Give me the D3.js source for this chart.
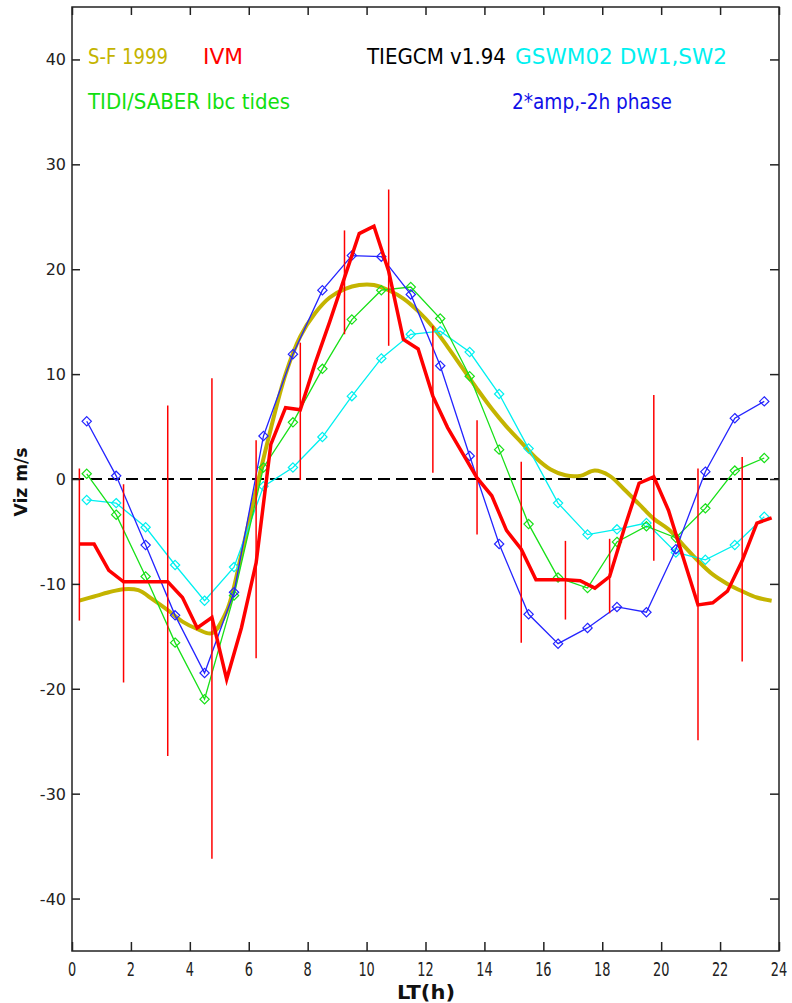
<!DOCTYPE html>
<html>
<head>
<meta charset="utf-8">
<script src="https://cdn.jsdelivr.net/npm/d3@7"></script>
<style>
  html, body { margin: 0; padding: 0; background: #fff; }
  svg { display: block; }
</style>
</head>
<body>
<script>
// Local time (h) for the hourly model series
const hourTimes = d3.range(24).map(i => i + 0.5);
// Local time (h) for half-hourly series (S-F 1999, IVM)
const halfTimes = d3.range(48).map(i => i * 0.5 + 0.25);

// S-F 1999 empirical model
const sfValues = [-11.6, -11.2, -10.8, -10.5, -10.6, -11.5, -12.5, -13.6, -14.3, -14.7,
  -12.6, -7.2, -1.0, 4.8, 10.0, 13.6, 15.8, 17.3, 18.1, 18.5,
  18.5, 18.0, 17.2, 16.0, 14.5, 12.6, 10.6, 8.6, 6.7, 5.0,
  3.5, 2.0, 0.9, 0.35, 0.3, 0.8, 0.3, -1.0, -2.4, -3.8,
  -4.8, -6.3, -7.8, -9.1, -10.0, -10.7, -11.3, -11.6];

// IVM observations
const ivmValues = [-6.2, -6.2, -8.7, -9.8, -9.8, -9.8, -9.8, -11.3, -14.2, -13.2,
  -19.1, -14.2, -8.0, 3.3, 6.8, 6.6, 11.0, 15.0, 19.2, 23.4,
  24.1, 19.8, 13.3, 12.4, 7.9, 4.9, 2.5, 0.1, -1.6, -4.9,
  -6.7, -9.6, -9.6, -9.6, -9.7, -10.4, -9.3, -4.7, -0.4, 0.2,
  -3.0, -7.5, -12.0, -11.8, -10.7, -7.8, -4.2, -3.7];

// IVM error bars
const errTimes = [0.25, 1.75, 3.25, 4.75, 6.25, 7.75, 9.25, 10.75, 12.25, 13.75, 15.25, 16.75, 18.25, 19.75, 21.25, 22.75];
const errHigh = [1.0, -0.5, 7.0, 9.6, 3.7, 13.0, 23.7, 27.6, 14.6, 5.6, 1.65, -5.9, -5.7, 8.0, 1.0, 2.1];
const errLow = [-13.5, -19.4, -26.4, -36.2, -17.1, -0.1, 13.8, 12.7, 0.6, -5.3, -15.6, -13.4, -12.8, -7.8, -24.9, -17.4];

// TIEGCM v1.94 runs
const gswmValues = [-2.0, -2.3, -4.6, -8.2, -11.6, -8.4, -0.7, 1.1, 4.0, 7.9, 11.5, 13.8,
  14.1, 12.1, 8.1, 2.9, -2.3, -5.3, -4.8, -4.2, -7.0, -7.7, -6.3, -3.6];
const tidiValues = [0.5, -3.4, -9.3, -15.6, -21.0, -11.1, 1.1, 5.4, 10.5, 15.2, 18.0, 18.3,
  15.3, 9.8, 2.8, -4.3, -9.4, -10.4, -6.0, -4.5, -5.6, -2.8, 0.8, 2.0];
const ampValues = [5.5, 0.3, -6.3, -13.0, -18.5, -10.8, 4.1, 11.9, 18.0, 21.3, 21.2, 17.6,
  10.8, 2.2, -6.2, -12.9, -15.7, -14.2, -12.2, -12.7, -6.7, 0.7, 5.8, 7.4];

const xTicks = d3.range(0, 25, 2);
const yTicks = d3.range(-40, 41, 10);

const W = 792, H = 1003;
const M = { left: 72, right: 779, top: 7, bottom: 951 };

const svg = d3.select("body").append("svg").attr("width", W).attr("height", H);

const x = d3.scaleLinear().domain([0, 24]).range([M.left, M.right]);
const y = d3.scaleLinear().domain([-45, 45]).range([M.bottom, M.top]);

const narrow = "'Liberation Sans Narrow', 'Arial Narrow', 'DejaVu Sans Condensed', sans-serif";
const COLORS = { sf: "#c4b400", ivm: "#ff0000", gswm: "#00f0f0", tidi: "#18e018", amp: "#2424ff" };

// Zero reference line
svg.append("line")
  .attr("x1", M.left).attr("x2", M.right).attr("y1", y(0)).attr("y2", y(0))
  .attr("stroke", "#000").attr("stroke-width", 2).attr("stroke-dasharray", "12,6");

const lineHalf = d3.line().x((d, i) => x(halfTimes[i])).y(d => y(d));
const lineHour = d3.line().x((d, i) => x(hourTimes[i])).y(d => y(d));
const lineSmooth = d3.line().x((d, i) => x(halfTimes[i])).y(d => y(d)).curve(d3.curveCatmullRom);

// S-F 1999 curve
svg.append("path").attr("d", lineSmooth(sfValues))
  .attr("fill", "none").attr("stroke", COLORS.sf).attr("stroke-width", 4).attr("stroke-linejoin", "round");

// Hourly model series with open diamond markers
const diamond = d3.symbol().type(d3.symbolDiamond2).size(55);
function modelSeries(values, color) {
  svg.append("path").attr("d", lineHour(values))
    .attr("fill", "none").attr("stroke", color).attr("stroke-width", 1.3);
  svg.append("g").selectAll("path").data(values).join("path")
    .attr("d", diamond)
    .attr("transform", (d, i) => `translate(${x(hourTimes[i])},${y(d)})`)
    .attr("fill", "none").attr("stroke", color).attr("stroke-width", 1.2);
}
modelSeries(gswmValues, COLORS.gswm);
modelSeries(tidiValues, COLORS.tidi);
modelSeries(ampValues, COLORS.amp);

// IVM error bars and line
svg.append("g").selectAll("line").data(errTimes).join("line")
  .attr("x1", d => x(d)).attr("x2", d => x(d))
  .attr("y1", (d, i) => y(errHigh[i])).attr("y2", (d, i) => y(errLow[i]))
  .attr("stroke", COLORS.ivm).attr("stroke-width", 1.5);
svg.append("path").attr("d", lineHalf(ivmValues))
  .attr("fill", "none").attr("stroke", COLORS.ivm).attr("stroke-width", 3.5).attr("stroke-linejoin", "miter");

// Frame with inward ticks on all sides
svg.append("rect").attr("x", M.left).attr("y", M.top)
  .attr("width", M.right - M.left).attr("height", M.bottom - M.top)
  .attr("fill", "none").attr("stroke", "#222").attr("stroke-width", 1.5);
const axB = d3.axisBottom(x).tickValues(xTicks).tickSize(-9).tickFormat("");
const axT = d3.axisTop(x).tickValues(xTicks).tickSize(-8).tickFormat("");
const axL = d3.axisLeft(y).tickValues(yTicks).tickSize(-8).tickFormat("");
const axR = d3.axisRight(y).tickValues(yTicks).tickSize(-9).tickFormat("");
[[axB, `translate(0,${M.bottom})`], [axT, `translate(0,${M.top})`], [axL, `translate(${M.left},0)`], [axR, `translate(${M.right},0)`]]
  .forEach(([ax, t]) => {
    const g = svg.append("g").attr("transform", t).call(ax);
    g.select(".domain").remove();
    g.selectAll(".tick line").attr("stroke", "#222").attr("stroke-width", 1.5);
  });

// Tick labels
svg.append("g").selectAll("text").data(xTicks).join("text")
  .attr("x", d => x(d)).attr("y", 976)
  .attr("text-anchor", "middle").attr("font-family", narrow).attr("font-size", 19).attr("fill", "#222")
  .attr("textLength", d => String(d).length * 8.2).attr("lengthAdjust", "spacingAndGlyphs")
  .text(d => d);
svg.append("g").selectAll("text").data(yTicks).join("text")
  .attr("x", 66).attr("y", d => y(d) + 6)
  .attr("text-anchor", "end").attr("font-family", "'DejaVu Sans', sans-serif").attr("font-size", 16).attr("fill", "#222")
  .text(d => d);

// Axis titles
svg.append("text").attr("x", 426).attr("y", 999).attr("text-anchor", "middle")
  .attr("font-family", narrow).attr("font-weight", "bold").attr("font-size", 20).attr("fill", "#111")
  .attr("textLength", 58).attr("lengthAdjust", "spacingAndGlyphs").text("LT(h)");
svg.append("text").attr("transform", "translate(27,482) rotate(-90)").attr("text-anchor", "middle")
  .attr("font-family", narrow).attr("font-weight", "bold").attr("font-size", 18).attr("fill", "#111")
  .attr("textLength", 69).attr("lengthAdjust", "spacingAndGlyphs").text("Viz m/s");

// Series labels
const labels = [
  { text: "S-F 1999", x: 88, y: 64, w: 80, c: COLORS.sf },
  { text: "IVM", x: 203, y: 64, w: 40, c: COLORS.ivm },
  { text: "TIEGCM v1.94", x: 367, y: 64, w: 139, c: "#000" },
  { text: "GSWM02 DW1,SW2", x: 515, y: 64, w: 212, c: COLORS.gswm },
  { text: "TIDI/SABER lbc tides", x: 88, y: 109, w: 202, c: "#10e010" },
  { text: "2*amp,-2h phase", x: 512, y: 109, w: 160, c: "#1010e8" }
];
svg.append("g").selectAll("text").data(labels).join("text")
  .attr("x", d => d.x).attr("y", d => d.y)
  .attr("font-family", narrow).attr("font-size", 21).attr("fill", d => d.c)
  .attr("textLength", d => d.w).attr("lengthAdjust", "spacingAndGlyphs")
  .text(d => d.text);
</script>
</body>
</html>
